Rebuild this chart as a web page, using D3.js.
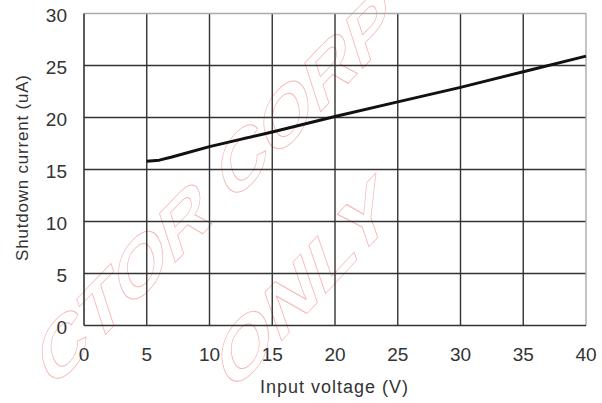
<!DOCTYPE html>
<html>
<head>
<meta charset="utf-8">
<script src="https://cdn.jsdelivr.net/npm/d3@7"></script>
<style>
  body { margin: 0; background: #fff; }
  svg { display: block; font-family: "Liberation Sans", Arial, sans-serif; }
</style>
</head>
<body>
<svg id="chart" width="602" height="403"></svg>
<script>
// data
var voltage = [5, 6, 7, 10, 15, 20, 25, 30, 35, 40];
var current = [15.8, 15.9, 16.2, 17.2, 18.6, 20.1, 21.5, 22.9, 24.4, 25.9];
var xTicks = [0, 5, 10, 15, 20, 25, 30, 35, 40];
var yTicks = [0, 5, 10, 15, 20, 25, 30];
var watermark = ['CTOR CORP', 'ONLY'];

var svg = d3.select('#chart');

var x = d3.scaleLinear().domain([0, 40]).range([84, 586]);
var y = d3.scaleLinear().domain([0, 30]).range([325.5, 13.5]);

// faint outlined watermark (drawn first, sits under the grid)
var wm = svg.append('g').attr('pointer-events', 'none');
wm.append('text')
    .attr('transform', 'translate(50,392) rotate(-46) skewX(-28)')
    .attr('font-size', 66)
    .attr('font-weight', 'bold')
    .attr('textLength', 500)
    .attr('lengthAdjust', 'spacingAndGlyphs')
    .attr('fill', 'none')
    .attr('stroke', '#f7b4b4')
    .attr('stroke-width', 0.7)
    .text(watermark[0]);
wm.append('text')
    .attr('transform', 'translate(230,396) rotate(-47) skewX(-28)')
    .attr('font-size', 66)
    .attr('font-weight', 'bold')
    .attr('textLength', 240)
    .attr('lengthAdjust', 'spacingAndGlyphs')
    .attr('fill', 'none')
    .attr('stroke', '#f7b4b4')
    .attr('stroke-width', 0.7)
    .text(watermark[1]);

// grid
svg.append('g').selectAll('line.v')
    .data(xTicks.slice(1, -1))
    .enter().append('line')
    .attr('x1', d => x(d)).attr('x2', d => x(d))
    .attr('y1', y(30)).attr('y2', y(0))
    .attr('stroke', '#333').attr('stroke-width', 1.4);

svg.append('g').selectAll('line.h')
    .data(yTicks.slice(1, -1))
    .enter().append('line')
    .attr('x1', x(0)).attr('x2', x(40))
    .attr('y1', d => y(d)).attr('y2', d => y(d))
    .attr('stroke', '#333').attr('stroke-width', 1.4);

// frame: top and right are lighter in the picture
svg.append('line').attr('x1', x(0)).attr('x2', x(40)).attr('y1', y(30)).attr('y2', y(30))
    .attr('stroke', '#aaa').attr('stroke-width', 1.4);
svg.append('line').attr('x1', x(40)).attr('x2', x(40)).attr('y1', y(30)).attr('y2', y(0))
    .attr('stroke', '#aaa').attr('stroke-width', 1.4);
svg.append('line').attr('x1', x(0)).attr('x2', x(40)).attr('y1', y(0)).attr('y2', y(0))
    .attr('stroke', '#333').attr('stroke-width', 1.6);
svg.append('line').attr('x1', x(0)).attr('x2', x(0)).attr('y1', y(30)).attr('y2', y(0))
    .attr('stroke', '#333').attr('stroke-width', 1.6);

// curve
var line = d3.line()
    .x(function(d, i) { return x(voltage[i]); })
    .y(function(d) { return y(d); });

svg.append('path')
    .datum(current)
    .attr('d', line)
    .attr('fill', 'none')
    .attr('stroke', '#111')
    .attr('stroke-width', 3)
    .attr('stroke-linejoin', 'round');

// tick labels
svg.append('g').selectAll('text')
    .data(xTicks)
    .enter().append('text')
    .attr('x', d => x(d))
    .attr('y', 361)
    .attr('text-anchor', 'middle')
    .attr('font-size', 19)
    .attr('fill', '#333')
    .text(d => d);

svg.append('g').selectAll('text')
    .data(yTicks)
    .enter().append('text')
    .attr('x', 67)
    .attr('y', d => y(d) + 8)
    .attr('text-anchor', 'end')
    .attr('font-size', 19)
    .attr('fill', '#333')
    .text(d => d);

// axis titles
svg.append('text')
    .attr('x', 334)
    .attr('y', 393)
    .attr('text-anchor', 'middle')
    .attr('font-size', 18)
    .attr('fill', '#333')
    .attr('textLength', 148)
    .text('Input voltage (V)');

svg.append('text')
    .attr('transform', 'translate(28,168) rotate(-90)')
    .attr('text-anchor', 'middle')
    .attr('font-size', 17)
    .attr('fill', '#333')
    .attr('textLength', 186)
    .text('Shutdown current (uA)');
</script>
</body>
</html>
